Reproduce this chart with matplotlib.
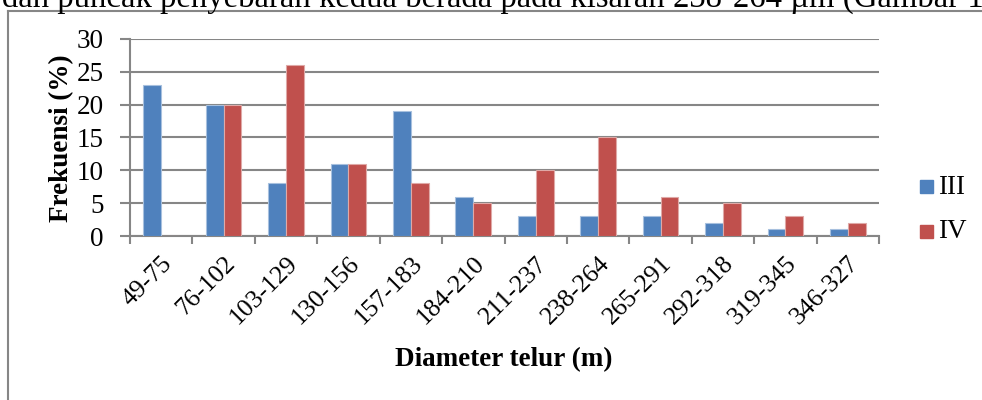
import matplotlib
matplotlib.use("Agg")
import matplotlib.pyplot as plt
import numpy as np
from matplotlib.lines import Line2D
from matplotlib.patches import Rectangle

categories = ["49-75", "76-102", "103-129", "130-156", "157-183", "184-210",
              "211-237", "238-264", "265-291", "292-318", "319-345", "346-327"]
series_iii = [23, 20, 8, 11, 19, 6, 3, 3, 3, 2, 1, 1]
series_iv = [0, 20, 26, 11, 8, 5, 10, 15, 6, 5, 3, 2]
series_names = ["III", "IV"]
y_ticks = [0, 5, 10, 15, 20, 25, 30]

plt.rcParams['font.family'] = ['Liberation Serif', 'DejaVu Serif']
FS = 19.5

W, H = 982, 400
fig = plt.figure(figsize=(W / 100, H / 100), dpi=100)

# axes placement in pixels
left, right, top, bottom = 130, 879, 39, 236
ax = fig.add_axes([left / W, 1 - bottom / H, (right - left) / W, (bottom - top) / H])

grey = "#868686"
blue = "#4F81BD"
red = "#C0504D"
colors = [blue, red]

n = len(categories)
x = np.arange(n)
bw = 1 / 3.5
ax.bar(x - bw / 2, series_iii, width=bw, color=blue, edgecolor="#A7C0DE", linewidth=0.8, zorder=3)
ax.bar(x + bw / 2, series_iv, width=bw, color=red, edgecolor="#DFA9A7", linewidth=0.8, zorder=3)

ax.set_xlim(-0.5, n - 0.5)
ax.set_ylim(0, 30)
ax.set_yticks(y_ticks)
ax.set_yticklabels([str(v) for v in y_ticks], fontsize=FS)
ax.yaxis.grid(True, color=grey, linewidth=1.5, zorder=0)
ax.set_axisbelow(True)

ax.set_xticks(np.arange(-0.5, n, 1.0))
ax.set_xticklabels([])
ax.set_xticks(x, minor=True)
ax.set_xticklabels(categories, minor=True, rotation=45, ha="right", va="top",
                   rotation_mode="anchor", fontsize=18.5)
ax.tick_params(axis="x", which="minor", length=0, pad=12)
ax.tick_params(axis="x", which="major", length=6, color=grey, width=1.5, direction="out")
ax.tick_params(axis="y", length=7, color=grey, width=1.5, pad=12)

for s in ["top", "right"]:
    ax.spines[s].set_visible(False)
for s in ["left", "bottom"]:
    ax.spines[s].set_color(grey)
    ax.spines[s].set_linewidth(1.5)

fig.text(62 / W, 1 - 138 / H, "Frekuensi (%)", fontsize=FS, fontweight="bold",
         rotation=90, ha="center", va="center")
fig.text(504 / W, 1 - 360 / H, "Diameter telur (m)", fontsize=FS, fontweight="bold",
         ha="center", va="center")

# legend: colour square plus series name
for i, (name, c) in enumerate(zip(series_names, colors)):
    yc = 186 + i * 45
    fig.add_artist(Rectangle((920 / W, 1 - (yc + 7) / H), 13 / W, 13 / H,
                             transform=fig.transFigure, color=c))
    fig.text(938 / W, 1 - (yc + 1) / H, name, fontsize=FS, ha="left", va="center")

# outer chart frame
fig.add_artist(Line2D([8 / W, 8 / W], [0, 1 - 11 / H], transform=fig.transFigure,
                      color=grey, linewidth=1.5))
fig.add_artist(Line2D([8 / W, 1], [1 - 11 / H, 1 - 11 / H], transform=fig.transFigure,
                      color=grey, linewidth=1.5))

# running text of the page above the chart
fig.text(984 / W, 1 - 7 / H, "dan puncak penyebaran kedua berada pada kisaran 238-264 µm (Gambar 1",
         fontsize=23.6, ha="right", va="baseline")

fig.savefig("out.png", dpi=100)
